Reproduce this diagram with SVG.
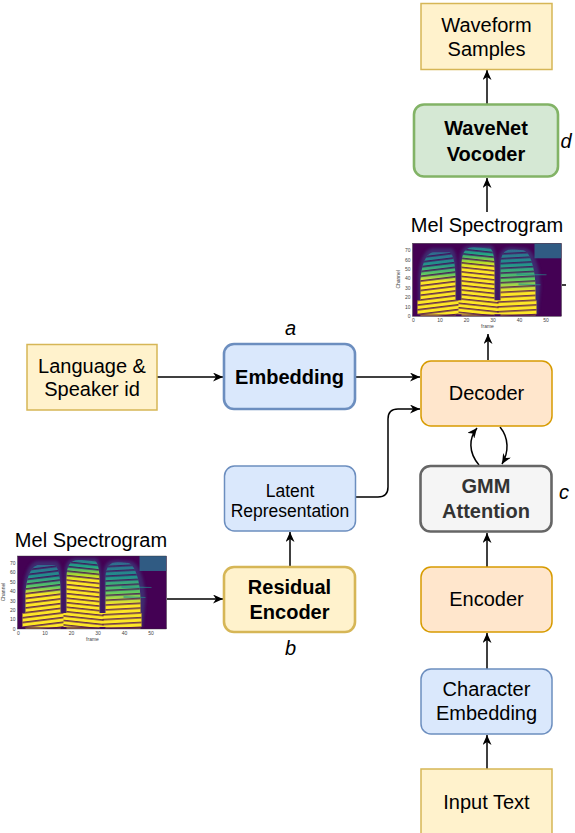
<svg xmlns="http://www.w3.org/2000/svg" xmlns:xlink="http://www.w3.org/1999/xlink" width="575" height="833" viewBox="0 0 575 833">
<style>
.t{font-family:"Liberation Sans",Arial,Helvetica,sans-serif;font-size:20px;text-anchor:middle;fill:#000}
.b{font-weight:bold}
.s{font-size:17.5px}
.i{font-style:italic}
.ax{font-family:"Liberation Sans",Arial,sans-serif;font-size:5px;fill:#444}
.yel{fill:#fff2cc;stroke:#d6b656;stroke-width:1.5}
.org{fill:#ffe6cc;stroke:#d79b00;stroke-width:1.5}
.blu{fill:#dae8fc;stroke:#6c8ebf;stroke-width:1.5}
.thick{stroke-width:2.6}
.con{fill:none;stroke:#000;stroke-width:1.5}
</style>
<defs>
<marker id="ah" markerUnits="userSpaceOnUse" markerWidth="11" markerHeight="9" refX="10" refY="4.5" orient="auto">
<path d="M0,0 L10,4.5 L0,9 L3,4.5 Z" fill="#000"/>
</marker>
<linearGradient id="g1" x1="0" y1="0" x2="0" y2="1">
<stop offset="0" stop-color="#31688e"/><stop offset="0.18" stop-color="#21918c"/><stop offset="0.34" stop-color="#5ec962"/><stop offset="0.46" stop-color="#fde725"/><stop offset="1" stop-color="#fde725"/>
</linearGradient>
<linearGradient id="g2" x1="0" y1="0" x2="0" y2="1">
<stop offset="0" stop-color="#2a788e"/><stop offset="0.1" stop-color="#22a884"/><stop offset="0.22" stop-color="#b5de2b"/><stop offset="0.3" stop-color="#fde725"/><stop offset="1" stop-color="#fde725"/>
</linearGradient>
<linearGradient id="g3" x1="0" y1="0" x2="0" y2="1">
<stop offset="0" stop-color="#31688e"/><stop offset="0.22" stop-color="#21918c"/><stop offset="0.45" stop-color="#5ec962"/><stop offset="0.64" stop-color="#fde725"/><stop offset="1" stop-color="#fde725"/>
</linearGradient>
<pattern id="h1" patternUnits="userSpaceOnUse" width="8" height="4.7" patternTransform="rotate(-7)">
<rect x="0" y="0" width="8" height="1.6" fill="#440154" opacity="0.8"/>
</pattern>
<pattern id="h2" patternUnits="userSpaceOnUse" width="8" height="4.5" patternTransform="rotate(6)">
<rect x="0" y="0" width="8" height="1.5" fill="#440154" opacity="0.8"/>
</pattern>
<pattern id="h3" patternUnits="userSpaceOnUse" width="8" height="4.8" patternTransform="rotate(-3)">
<rect x="0" y="0" width="8" height="1.6" fill="#440154" opacity="0.75"/>
</pattern>
<filter id="blur" x="-10%" y="-10%" width="120%" height="120%"><feGaussianBlur stdDeviation="0.55"/></filter>
<filter id="blur2" x="-20%" y="-20%" width="140%" height="140%"><feGaussianBlur stdDeviation="1.6"/></filter>
<clipPath id="plot"><rect x="0" y="0" width="149" height="73"/></clipPath>
<g id="spec">
<rect x="0" y="0" width="149" height="73" fill="#440154"/>
<g clip-path="url(#plot)">
<g filter="url(#blur2)" fill="#3b528b" opacity="0.5">
<path d="M6,73 L6,32 C7,17 12,6 20,5 L39,5 C44,7 45,20 45,35 L45,73 Z"/>
<path d="M47,73 L47,19 C47,7 51,2 60,2 L77,2 C82,2 84,10 84,25 L84,73 Z"/>
<path d="M86,73 L86,19 C86,7 91,4 100,4 L113,5 C122,7 128,25 128,45 L125,73 Z"/>
</g>
<g filter="url(#blur)">
<path d="M8,73 L8,36 C9,22 13,11 20,9 L37,9 C41,11 43,22 43,36 L43,73 Z" fill="url(#g1)"/>
<path d="M49,73 L49,22 C49,9 53,4 61,4 L75,4 C80,4 82,11 82,26 L82,73 Z" fill="url(#g2)"/>
<path d="M88,73 L88,22 C88,10 93,6 100,6 L111,7 C118,9 123,26 123,46 L123,73 Z" fill="url(#g3)"/>
<path d="M104,30 L134,31 L134,32 L104,32 Z M106,40 L128,41 L128,42 L106,42 Z" fill="#21918c" opacity="0.6"/>
<rect x="5" y="57" width="119" height="14" fill="#fde725"/>
<rect x="122" y="0" width="27" height="15" fill="#2c728e" opacity="0.8"/>
<path d="M8,73 L8,36 C9,22 13,11 20,9 L37,9 C41,11 43,22 43,36 L43,73 Z M5,57 L46,57 L46,71 L5,71 Z" fill="url(#h1)"/>
<path d="M49,73 L49,22 C49,9 53,4 61,4 L75,4 C80,4 82,11 82,26 L82,73 Z M46,57 L86,57 L86,71 L46,71 Z" fill="url(#h2)"/>
<path d="M88,73 L88,22 C88,10 93,6 100,6 L111,7 C118,9 123,26 123,46 L123,73 Z M85,57 L124,57 L124,71 L85,71 Z" fill="url(#h3)"/>
<rect x="0" y="71" width="149" height="2" fill="#440154" opacity="0.6"/>
</g>
</g>
<rect x="0" y="0" width="149" height="73" fill="none" stroke="#333" stroke-width="0.4"/>
<g class="ax" text-anchor="middle">
<text x="1" y="79">0</text><text x="27.5" y="79">10</text><text x="54" y="79">20</text><text x="80.5" y="79">30</text><text x="107" y="79">40</text><text x="133.5" y="79">50</text>
<text x="75" y="85">frame</text>
</g>
<g class="ax" text-anchor="end">
<text x="-2" y="74.7">0</text><text x="-2" y="65.3">10</text><text x="-2" y="55.9">20</text><text x="-2" y="46.5">30</text><text x="-2" y="37.1">40</text><text x="-2" y="27.7">50</text><text x="-2" y="18.3">60</text><text x="-2" y="8.9">70</text>
</g>
<text class="ax" text-anchor="middle" transform="translate(-12.5,36) rotate(-90)">Channel</text>
</g>
</defs>
<rect width="575" height="833" fill="#fff"/>

<g id="connectors">
<path class="con" d="M487,104 L487,70" marker-end="url(#ah)"/>
<path class="con" d="M487,212 L487,178" marker-end="url(#ah)"/>
<path class="con" d="M488,360 L488,334" marker-end="url(#ah)"/>
<path class="con" d="M157,377 L223,377" marker-end="url(#ah)"/>
<path class="con" d="M356,377 L420,377" marker-end="url(#ah)"/>
<path class="con" d="M356,497 L378,497 Q388,497 388,487 L388,419 Q388,409 398,409 L420,409" marker-end="url(#ah)"/>
<path class="con" d="M479,465 C468,452 469,438 477,428" marker-end="url(#ah)"/>
<path class="con" d="M500,427 C509,438 509,452 502,464" marker-end="url(#ah)"/>
<path class="con" d="M487,567 L487,533" marker-end="url(#ah)"/>
<path class="con" d="M487,669 L487,633" marker-end="url(#ah)"/>
<path class="con" d="M487,769 L487,735" marker-end="url(#ah)"/>
<path class="con" d="M290,567 L290,532" marker-end="url(#ah)"/>
<path class="con" d="M167,599 L223,599" marker-end="url(#ah)"/>
<path class="con" d="M562,285 L566,285"/>
</g>

<g id="waveform">
<rect class="yel" x="421" y="3.5" width="131" height="66"/>
<text class="t" x="486.5" y="31.5">Waveform</text>
<text class="t" x="486.5" y="55.5">Samples</text>
</g>
<g id="wavenet">
<rect x="414" y="104.5" width="144" height="72" rx="10" fill="#d5e8d4" stroke="#82b366" stroke-width="2.6"/>
<text class="t b" x="486" y="135">WaveNet</text>
<text class="t b" x="486" y="160.5">Vocoder</text>
<text class="t i" x="566" y="148" text-anchor="start">d</text>
</g>
<g id="spec-top">
<text class="t" x="487" y="231.5">Mel Spectrogram</text>
<use xlink:href="#spec" transform="translate(412.5,243.3)"/>
</g>
<g id="decoder">
<rect class="org" x="421" y="361" width="131" height="65" rx="10"/>
<text class="t" x="486.5" y="400">Decoder</text>
</g>
<g id="language">
<rect class="yel" x="27" y="344.5" width="130" height="65.5"/>
<text class="t" x="92" y="372.5">Language &amp;</text>
<text class="t" x="92" y="395.5">Speaker id</text>
</g>
<g id="embedding">
<rect class="blu thick" x="224" y="344" width="131" height="65" rx="10"/>
<text class="t b" x="289.5" y="383.5">Embedding</text>
<text class="t i" x="290.5" y="335">a</text>
</g>
<g id="latent">
<rect class="blu" x="224.5" y="466" width="131" height="65" rx="10"/>
<text class="t s" x="290" y="496.5">Latent</text>
<text class="t s" x="290" y="517">Representation</text>
</g>
<g id="residual">
<rect class="yel thick" x="224" y="567" width="131" height="65" rx="10"/>
<text class="t b" x="289.5" y="594">Residual</text>
<text class="t b" x="289.5" y="618.5">Encoder</text>
<text class="t i" x="290.5" y="655">b</text>
</g>
<g id="spec-left">
<text class="t" x="91" y="546.7">Mel Spectrogram</text>
<use xlink:href="#spec" transform="translate(17.5,556)"/>
</g>
<g id="gmm">
<rect x="420.5" y="466" width="131" height="65.5" rx="10" fill="#f5f5f5" stroke="#666" stroke-width="2.6"/>
<text class="t b" x="486" y="493" style="fill:#333">GMM</text>
<text class="t b" x="486" y="517.5" style="fill:#333">Attention</text>
<text class="t i" x="564" y="499" text-anchor="start">c</text>
</g>
<g id="encoder">
<rect class="org" x="421" y="567" width="131" height="65" rx="10"/>
<text class="t" x="486.5" y="606">Encoder</text>
</g>
<g id="charemb">
<rect class="blu" x="421" y="669" width="131" height="65" rx="10"/>
<text class="t" x="486.5" y="696">Character</text>
<text class="t" x="486.5" y="720">Embedding</text>
</g>
<g id="input">
<rect class="yel" x="421" y="769" width="131" height="70"/>
<text class="t" x="486.5" y="808.5">Input Text</text>
</g>
</svg>
